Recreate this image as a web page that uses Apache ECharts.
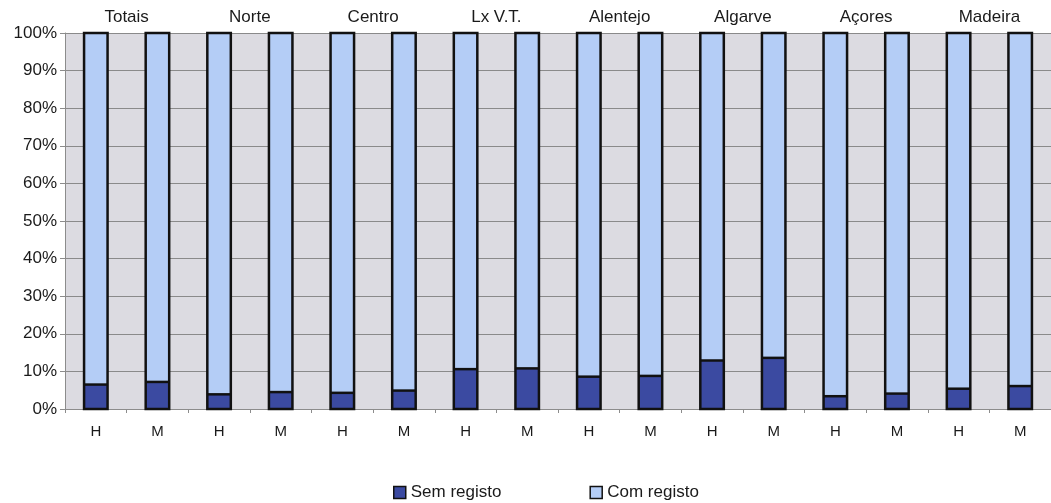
<!DOCTYPE html>
<html>
<head>
<meta charset="utf-8">
<script src="https://cdn.jsdelivr.net/npm/echarts@6/dist/echarts.min.js"></script>
<style>
  html, body { margin: 0; padding: 0; background: #ffffff; }
  #chart { width: 1051px; height: 503px; }
</style>
</head>
<body>
<div id="chart"></div>
<script>
// Regions shown along the top, each with a men (H) and women (M) bar
const regions = ['Totais', 'Norte', 'Centro', 'Lx V.T.', 'Alentejo', 'Algarve', 'Açores', 'Madeira'];
const sexes = ['H', 'M'];

// Share (%) without a record, per bar in order H, M for each region
const semRegisto = [6.5, 7.2, 3.9, 4.5, 4.3, 4.9, 10.6, 10.8, 8.6, 8.8, 12.9, 13.6, 3.4, 4.1, 5.4, 6.1];
// Share (%) with a record
const comRegisto = [93.5, 92.8, 96.1, 95.5, 95.7, 95.1, 89.4, 89.2, 91.4, 91.2, 87.1, 86.4, 96.6, 95.9, 94.6, 93.9];

const yTicks = [0, 10, 20, 30, 40, 50, 60, 70, 80, 90, 100];

const barCategories = [];
regions.forEach(function (r) {
  sexes.forEach(function (s) { barCategories.push(r + '|' + s); });
});

const font = '"Liberation Sans", Arial, sans-serif';
const BAR_W = 23.5;
const OUTLINE = '#111111';

// Outline rows: [category index, top of lower segment, top of stacked bar]
const outlineData = semRegisto.map(function (v, i) { return [i, v, v + comRegisto[i]]; });

const chart = echarts.init(document.getElementById('chart'), null, { renderer: 'canvas' });

chart.setOption({
  animation: false,
  backgroundColor: '#ffffff',
  textStyle: { fontFamily: font },
  grid: {
    left: 65, right: 0, top: 33, bottom: 94,
    show: true, backgroundColor: '#dcdbe1', borderWidth: 0
  },
  legend: {
    left: 393, top: 484, padding: 0,
    itemWidth: 12, itemHeight: 12, itemGap: 88,
    icon: 'rect',
    itemStyle: { borderColor: OUTLINE, borderWidth: 1.5 },
    textStyle: { fontFamily: font, fontSize: 17, color: '#1a1a1a' },
    data: ['Sem registo', 'Com registo']
  },
  xAxis: [
    {
      type: 'category',
      data: barCategories,
      position: 'bottom',
      axisLine: { show: true, lineStyle: { color: '#8c8c8c', width: 1 } },
      axisTick: { show: true, length: 4, lineStyle: { color: '#8c8c8c' } },
      axisLabel: {
        margin: 15, fontSize: 15, color: '#1a1a1a', fontFamily: font,
        formatter: function (v) { return v.split('|')[1]; }
      },
      splitLine: { show: false }
    },
    {
      type: 'category',
      data: regions,
      position: 'top',
      axisLine: { show: false },
      axisTick: { show: false },
      axisLabel: { margin: 7, fontSize: 17, color: '#1a1a1a', fontFamily: font },
      splitLine: { show: false }
    }
  ],
  yAxis: {
    type: 'value',
    min: yTicks[0], max: yTicks[yTicks.length - 1], interval: 10,
    axisLine: { show: true, lineStyle: { color: '#8c8c8c', width: 1 } },
    axisTick: { show: true, length: 5, lineStyle: { color: '#8c8c8c' } },
    axisLabel: {
      margin: 8, fontSize: 17, color: '#1a1a1a', fontFamily: font,
      formatter: '{value}%'
    },
    splitLine: { show: true, lineStyle: { color: '#8a8a8a', width: 1 } }
  },
  series: [
    {
      name: 'Sem registo',
      type: 'bar',
      stack: 'total',
      xAxisIndex: 0,
      barWidth: BAR_W,
      data: semRegisto,
      itemStyle: { color: '#3b4aa1' }
    },
    {
      name: 'Com registo',
      type: 'bar',
      stack: 'total',
      xAxisIndex: 0,
      barWidth: BAR_W,
      data: comRegisto,
      itemStyle: { color: '#b4cdf6' }
    },
    {
      // Black outline round each stacked bar and along the segment boundary
      name: 'contorno',
      type: 'custom',
      xAxisIndex: 0,
      yAxisIndex: 0,
      silent: true,
      z: 5,
      encode: { x: 0, y: [1, 2] },
      data: outlineData,
      renderItem: function (params, api) {
        const i = api.value(0);
        const base = api.coord([i, 0]);
        const mid = api.coord([i, api.value(1)]);
        const top = api.coord([i, api.value(2)]);
        const x0 = base[0] - BAR_W / 2;
        return {
          type: 'group',
          children: [
            {
              type: 'rect',
              shape: { x: x0, y: top[1], width: BAR_W, height: base[1] - top[1] },
              style: { fill: 'none', stroke: OUTLINE, lineWidth: 2.5 }
            },
            {
              type: 'line',
              shape: { x1: x0, y1: mid[1], x2: x0 + BAR_W, y2: mid[1] },
              style: { stroke: OUTLINE, lineWidth: 2.5 }
            }
          ]
        };
      }
    }
  ]
});
</script>
</body>
</html>
